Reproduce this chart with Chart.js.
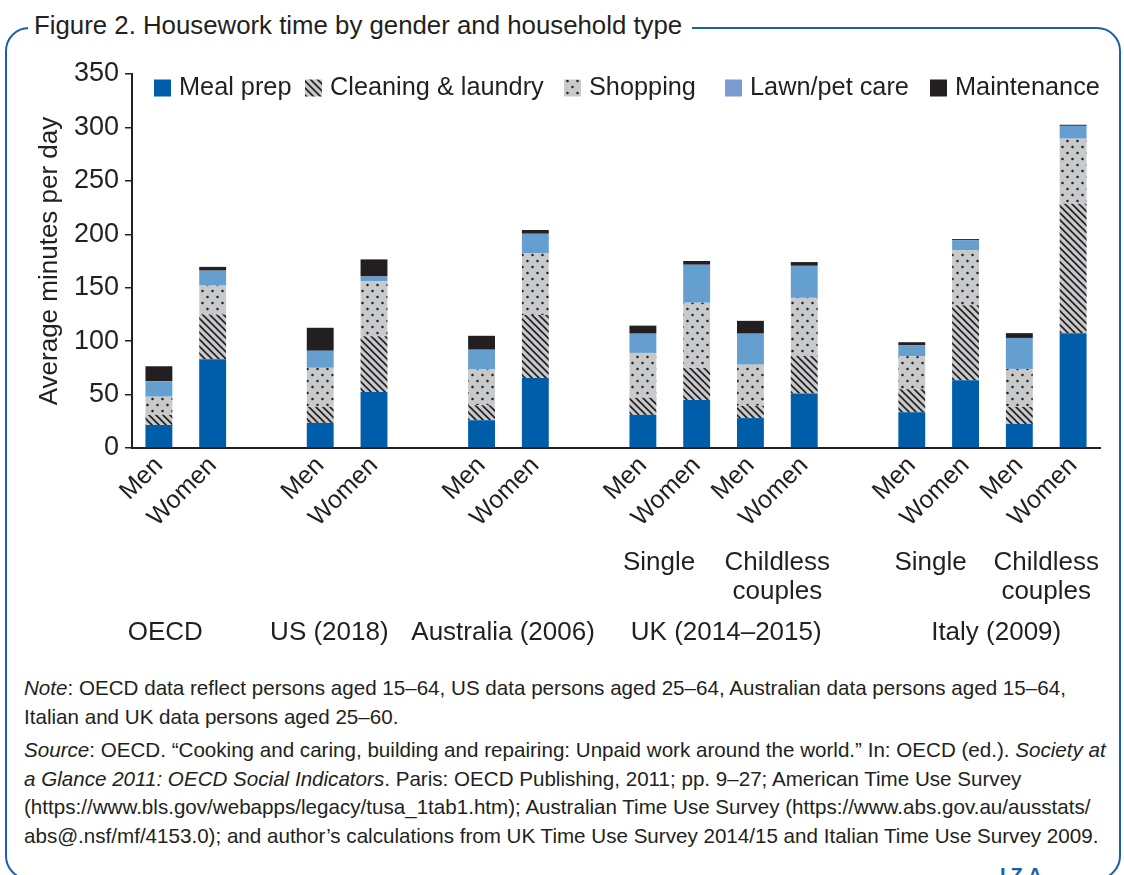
<!DOCTYPE html>
<html>
<head>
<meta charset="utf-8">
<script src="https://cdn.jsdelivr.net/npm/chart.js@4/dist/chart.umd.min.js"></script>
<style>
  html, body { margin: 0; padding: 0; background: #fff; }
  body { width: 1124px; height: 875px; position: relative; overflow: hidden; font-family: "Liberation Sans", Arial, sans-serif; color: #231f20; }
  .frame { position: absolute; left: 5px; top: 27px; width: 1116px; height: 853px; box-sizing: border-box; border: 2.5px solid #1f5fa6; border-radius: 24px; }
  .title { position: absolute; left: 28px; top: 10px; padding: 0 10px 0 6px; background: #fff; font-size: 25.8px; line-height: 30px; white-space: nowrap; }
  #wrap { position: absolute; left: 0; top: 0; width: 1124px; height: 660px; }
  .notes { position: absolute; left: 24px; top: 674px; width: 1098px; font-size: 20.6px; line-height: 28.5px; white-space: nowrap; }
  .notes p { margin: 0 0 5px 0; }
  .iza { position: absolute; left: 1000px; top: 864px; color: #1f5fa6; font-weight: bold; font-size: 20px; letter-spacing: 5px; }
</style>
</head>
<body>
<div class="frame"></div>
<div class="title">Figure 2. Housework time by gender and household type</div>
<div id="wrap"><canvas id="housework"></canvas></div>
<div class="notes">
  <p><i>Note</i>: OECD data reflect persons aged 15–64, US data persons aged 25–64, Australian data persons aged 15–64,<br>Italian and UK data persons aged 25–60.</p>
  <p><i>Source</i>: OECD. “Cooking and caring, building and repairing: Unpaid work around the world.” In: OECD (ed.). <i>Society at<br>a Glance 2011: OECD Social Indicators</i>. Paris: OECD Publishing, 2011; pp. 9–27; American Time Use Survey<br>(https://www.bls.gov/webapps/legacy/tusa_1tab1.htm); Australian Time Use Survey (https://www.abs.gov.au/ausstats/<br>abs@.nsf/mf/4153.0); and author’s calculations from UK Time Use Survey 2014/15 and Italian Time Use Survey 2009.</p>
</div>
<div class="iza">IZA</div>

<script>
// bar slots, empty strings are the gaps between countries
const slots = ['Men', 'Women', '', 'Men', 'Women', '', 'Men', 'Women', '', 'Men', 'Women', 'Men', 'Women', '', 'Men', 'Women', 'Men', 'Women'];

// minutes per day for each activity
const mealPrep    = [21.5, 83, null, 23.5, 52.5, null, 26, 65.5, null, 31, 45, 28, 51, null, 33.5, 63.5, 22.5, 107.5];
const cleaning    = [9.5, 42, null, 15, 52, null, 14, 59, null, 16, 30, 11.5, 35, null, 21.5, 70, 16, 121];
const shopping    = [17, 27, null, 36.5, 51.5, null, 33.5, 58, null, 42, 61, 38.5, 54.5, null, 31, 51.5, 35.5, 61];
const lawnPet     = [14.5, 14, null, 16, 4.5, null, 18.5, 18, null, 18, 35.5, 29, 30, null, 10, 9.5, 29, 12];
const maintenance = [14, 3.5, null, 21.5, 16, null, 13, 3.5, null, 7.5, 3.5, 12, 3.5, null, 3, 1, 4.5, 1];

const yTicks = [0, 50, 100, 150, 200, 250, 300, 350];

// household type labels under the UK and Italy bars (slot position, lines)
const householdPos = [9.3, 11.5, 14.35, 16.5];
const householdText = [['Single'], ['Childless', 'couples'], ['Single'], ['Childless', 'couples']];

// country labels (slot position)
const countryPos = [0.12, 3.17, 6.4, 10.55, 15.57];
const countryText = ['OECD', 'US (2018)', 'Australia (2006)', 'UK (2014–2015)', 'Italy (2009)'];

const INK = '#231f20';
const FONT = '"Liberation Sans", Arial, sans-serif';

function hatchPattern() {
  const c = document.createElement('canvas');
  c.width = 7; c.height = 7;
  const g = c.getContext('2d');
  g.fillStyle = '#c8c9cb';
  g.fillRect(0, 0, 7, 7);
  g.strokeStyle = INK;
  g.lineWidth = 1.6;
  g.beginPath();
  g.moveTo(-1, -1); g.lineTo(8, 8);
  g.moveTo(-1, 6); g.lineTo(1, 8);
  g.moveTo(6, -1); g.lineTo(8, 1);
  g.stroke();
  return g.createPattern(c, 'repeat');
}

function dotPattern() {
  const c = document.createElement('canvas');
  c.width = 10; c.height = 12;
  const g = c.getContext('2d');
  g.fillStyle = '#c8c9cb';
  g.fillRect(0, 0, 10, 12);
  g.fillStyle = INK;
  g.beginPath(); g.arc(2.5, 3, 1.25, 0, Math.PI * 2); g.fill();
  g.beginPath(); g.arc(7.5, 9, 1.25, 0, Math.PI * 2); g.fill();
  return g.createPattern(c, 'repeat');
}

// legend drawn inside the plot area, across the top
const legendBoxX = [154, 305, 564, 725, 930];
const topLegend = {
  id: 'topLegend',
  afterDraw(chart) {
    const ctx = chart.ctx;
    ctx.save();
    ctx.font = '25.3px ' + FONT;
    ctx.textBaseline = 'middle';
    const y = 88;
    chart.data.datasets.forEach((ds, i) => {
      const x = legendBoxX[i];
      ctx.fillStyle = ds.legendColor || ds.backgroundColor;
      ctx.fillRect(x, y - 8.5, 17, 17);
      ctx.fillStyle = INK;
      ctx.fillText(ds.label, x + 25, y);
    });
    ctx.restore();
  }
};

// household and country labels below the rotated Men/Women ticks
const groupLabels = {
  id: 'groupLabels',
  afterDraw(chart) {
    const ctx = chart.ctx;
    const xs = chart.scales.x;
    ctx.save();
    ctx.font = '26px ' + FONT;
    ctx.fillStyle = INK;
    ctx.textAlign = 'center';
    ctx.textBaseline = 'middle';
    householdPos.forEach((p, i) => {
      householdText[i].forEach((line, j) => {
        ctx.fillText(line, xs.getPixelForValue(p), 563 + j * 29);
      });
    });
    countryPos.forEach((p, i) => {
      ctx.fillText(countryText[i], xs.getPixelForValue(p), 633);
    });
    ctx.restore();
  }
};

const ctx = document.getElementById('housework').getContext('2d');

new Chart(ctx, {
  type: 'bar',
  data: {
    labels: slots,
    datasets: [
      { label: 'Meal prep', data: mealPrep, backgroundColor: '#005da9' },
      { label: 'Cleaning & laundry', data: cleaning, backgroundColor: hatchPattern() },
      { label: 'Shopping', data: shopping, backgroundColor: dotPattern() },
      { label: 'Lawn/pet care', data: lawnPet, backgroundColor: '#659fcf', legendColor: '#7d9bd0' },
      { label: 'Maintenance', data: maintenance, backgroundColor: INK }
    ]
  },
  options: {
    responsive: true,
    maintainAspectRatio: false,
    animation: false,
    layout: { padding: { top: 74, right: 24, left: 0, bottom: 0 } },
    datasets: { bar: { categoryPercentage: 0.5, barPercentage: 1, borderWidth: 0 } },
    plugins: {
      legend: { display: false },
      tooltip: { enabled: false }
    },
    scales: {
      x: {
        stacked: true,
        offset: true,
        grid: { display: false, drawTicks: false },
        border: { color: INK, width: 2 },
        ticks: {
          autoSkip: false,
          maxRotation: 45,
          minRotation: 45,
          padding: 3,
          color: INK,
          font: { family: FONT, size: 25 }
        },
        afterFit(scale) { scale.height = 212; }
      },
      y: {
        stacked: true,
        min: 0,
        max: 350,
        afterBuildTicks(scale) { scale.ticks = yTicks.map(v => ({ value: v })); },
        grid: { display: true, drawOnChartArea: false, drawTicks: true, tickLength: 7, color: INK, lineWidth: 1.5 },
        border: { color: INK, width: 2 },
        ticks: {
          padding: 6,
          color: INK,
          font: { family: FONT, size: 27 }
        },
        title: {
          display: true,
          text: 'Average minutes per day',
          color: INK,
          font: { family: FONT, size: 26 },
          padding: { top: 34, bottom: 0 }
        },
        afterFit(scale) { scale.width = 132; }
      }
    }
  },
  plugins: [topLegend, groupLabels]
});
</script>
</body>
</html>
